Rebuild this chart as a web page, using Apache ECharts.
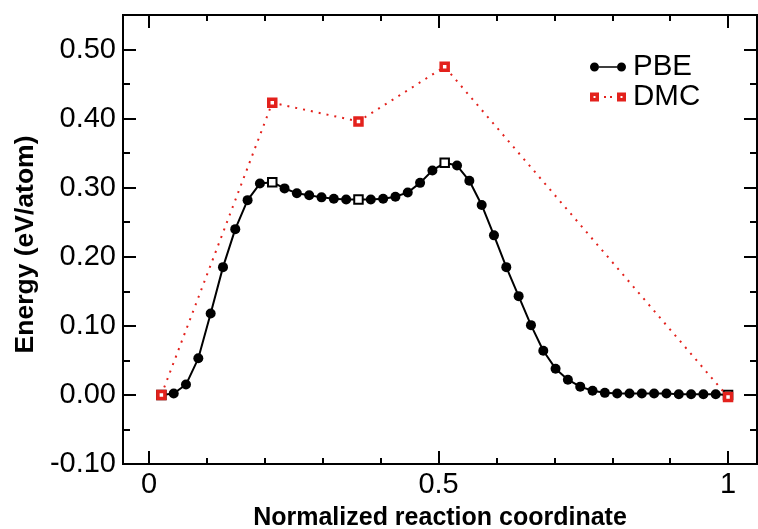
<!DOCTYPE html>
<html>
<head>
<meta charset="utf-8">
<script src="https://cdn.jsdelivr.net/npm/echarts@6/dist/echarts.min.js"></script>
<style>
  html, body { margin: 0; padding: 0; background: #fff; }
  #chart { width: 758px; height: 529px; }
</style>
</head>
<body>
<div id="chart"></div>
<script>
// Reaction path: PBE images along the normalized coordinate
const pbeX = [0.0213, 0.0426, 0.0638, 0.0851, 0.1064, 0.1277, 0.1489, 0.1702, 0.1915, 0.2128,
              0.2340, 0.2553, 0.2766, 0.2979, 0.3191, 0.3404, 0.3617, 0.3830, 0.4043, 0.4255,
              0.4468, 0.4681, 0.4894, 0.5106, 0.5319, 0.5532, 0.5745, 0.5957, 0.6170, 0.6383,
              0.6596, 0.6809, 0.7021, 0.7234, 0.7447, 0.7660, 0.7872, 0.8085, 0.8298, 0.8511,
              0.8723, 0.8936, 0.9149, 0.9362, 0.9574, 0.9787, 1.0000];
const pbeY = [0.000, 0.002, 0.015, 0.053, 0.118, 0.185, 0.240, 0.282, 0.306, 0.308,
              0.299, 0.292, 0.289, 0.286, 0.284, 0.283, 0.283, 0.283, 0.284, 0.287,
              0.293, 0.307, 0.325, 0.336, 0.332, 0.310, 0.275, 0.231, 0.185, 0.143,
              0.101, 0.064, 0.038, 0.022, 0.012, 0.006, 0.003, 0.002, 0.002, 0.002,
              0.002, 0.002, 0.001, 0.001, 0.001, 0.001, 0.000];
// PBE images where DMC energies were evaluated (open squares)
const pbeImageIdx = [0, 9, 16, 23, 46];

// DMC energies at the selected images
const dmcX = [0.0213, 0.2128, 0.3617, 0.5106, 1.0000];
const dmcY = [0.000, 0.423, 0.396, 0.475, -0.003];

// Axis ticks
const xMajorTicks = [0, 0.5, 1];
const xMinorTicks = [0, 0.1, 0.2, 0.3, 0.4, 0.5, 0.6, 0.7, 0.8, 0.9, 1.0];
const yMajorTicks = [-0.1, 0, 0.1, 0.2, 0.3, 0.4, 0.5];
const yMinorTicks = [-0.05, 0.05, 0.15, 0.25, 0.35, 0.45];

const FONT = '"Liberation Sans", Arial, Helvetica, sans-serif';
const RED = '#e3211c';
const X_MIN = -0.045, X_MAX = 1.05, Y_MIN = -0.1, Y_MAX = 0.55;

function xAxisDef(position, ticks, tickLen, withLabels) {
  return {
    type: 'value', position: position, min: X_MIN, max: X_MAX,
    axisLine: { show: true, onZero: false, lineStyle: { color: '#000', width: 2 } },
    axisTick: { show: true, inside: true, length: tickLen, customValues: ticks,
                lineStyle: { color: '#000', width: 2 } },
    axisLabel: withLabels
      ? { show: true, customValues: ticks, margin: 6, color: '#000',
          fontFamily: FONT, fontSize: 29, formatter: v => String(v) }
      : { show: false, customValues: ticks },
    splitLine: { show: false }
  };
}

function yAxisDef(position, ticks, tickLen, withLabels) {
  return {
    type: 'value', position: position, min: Y_MIN, max: Y_MAX,
    axisLine: { show: true, onZero: false, lineStyle: { color: '#000', width: 2 } },
    axisTick: { show: true, inside: true, length: tickLen, customValues: ticks,
                lineStyle: { color: '#000', width: 2 } },
    axisLabel: withLabels
      ? { show: true, customValues: ticks, margin: 7, color: '#000',
          fontFamily: FONT, fontSize: 29, formatter: v => v.toFixed(2) }
      : { show: false, customValues: ticks },
    splitLine: { show: false }
  };
}

const xAxes = [
  xAxisDef('bottom', xMajorTicks, 13, true),
  xAxisDef('bottom', xMinorTicks, 6, false),
  xAxisDef('top', xMajorTicks, 13, false),
  xAxisDef('top', xMinorTicks, 6, false)
];
Object.assign(xAxes[0], {
  name: 'Normalized reaction coordinate', nameLocation: 'middle', nameGap: 42,
  nameTextStyle: { fontFamily: FONT, fontSize: 25, fontWeight: 'bold', color: '#000' }
});

const yAxes = [
  yAxisDef('left', yMajorTicks, 13, true),
  yAxisDef('left', yMinorTicks, 7, false),
  yAxisDef('right', yMajorTicks, 13, false),
  yAxisDef('right', yMinorTicks, 7, false)
];
Object.assign(yAxes[0], {
  name: 'Energy (eV/atom)', nameLocation: 'middle', nameGap: 80,
  nameTextStyle: { fontFamily: FONT, fontSize: 26.5, fontWeight: 'bold', color: '#000',
                   padding: [0, 10, 0, 0] }
});

const pbeData = pbeX.map((x, i) => pbeImageIdx.includes(i)
  ? { value: [x, pbeY[i]], symbol: 'rect', symbolSize: 8.5,
      itemStyle: { color: '#fff', borderColor: '#000', borderWidth: 2 } }
  : [x, pbeY[i]]);
const dmcData = dmcX.map((x, i) => [x, dmcY[i]]);

// Legend glyphs: dot-line-dot and square-dots-square
const pbeIcon = 'path://M0,4.5A4.5,4.5 0 1,1 9,4.5A4.5,4.5 0 1,1 0,4.5Z' +
  'M9,3.75L27,3.75L27,5.25L9,5.25Z' +
  'M27,4.5A4.5,4.5 0 1,1 36,4.5A4.5,4.5 0 1,1 27,4.5Z';
const dmcIcon = 'path://M0,0L9,0L9,9L0,9ZM3.5,3.5L3.5,5.5L5.5,5.5L5.5,3.5Z' +
  'M14,3.5L16,3.5L16,5.5L14,5.5ZM20,3.5L22,3.5L22,5.5L20,5.5Z' +
  'M27,0L36,0L36,9L27,9ZM30.5,3.5L30.5,5.5L32.5,5.5L32.5,3.5Z';

const chart = echarts.init(document.getElementById('chart'), null, { renderer: 'canvas' });
chart.setOption({
  animation: false,
  backgroundColor: '#fff',
  grid: { left: 123, right: 1, top: 15, bottom: 65, containLabel: false, outerBoundsMode: 'none' },
  xAxis: xAxes,
  yAxis: yAxes,
  legend: {
    orient: 'vertical', left: 590, top: 52, padding: 0, itemGap: 0,
    itemWidth: 36, itemHeight: 9, selectedMode: false,
    textStyle: { fontFamily: FONT, fontSize: 29.5, color: '#000', lineHeight: 28, padding: [0, 0, 0, 2] },
    data: [
      { name: 'PBE', icon: pbeIcon, itemStyle: { color: '#000', borderWidth: 0 } },
      { name: 'DMC', icon: dmcIcon, itemStyle: { color: RED, borderWidth: 0 } }
    ]
  },
  series: [
    {
      name: 'PBE', type: 'line', xAxisIndex: 0, yAxisIndex: 0, z: 2,
      data: pbeData, symbol: 'circle', symbolSize: 10, showAllSymbol: true,
      lineStyle: { color: '#000', width: 2 },
      itemStyle: { color: '#000' },
      emphasis: { disabled: true }
    },
    {
      name: 'DMC', type: 'line', xAxisIndex: 0, yAxisIndex: 0, z: 3,
      data: dmcData, symbol: 'rect', symbolSize: 7, showAllSymbol: true,
      lineStyle: { color: RED, width: 2, type: [2, 6] },
      itemStyle: { color: '#fff', borderColor: RED, borderWidth: 3.5 },
      emphasis: { disabled: true }
    }
  ]
});
</script>
</body>
</html>
